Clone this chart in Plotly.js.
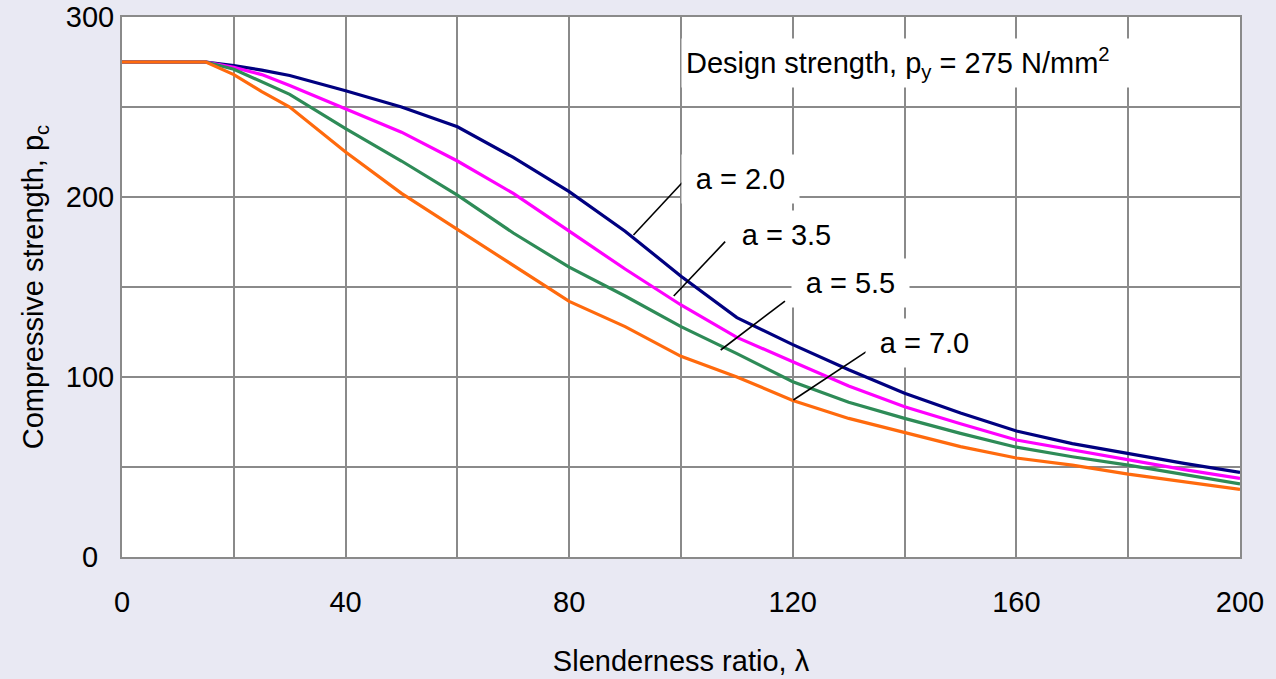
<!DOCTYPE html>
<html>
<head>
<meta charset="utf-8">
<script src="https://cdn.plot.ly/plotly-3.0.1.min.js"></script>
<style>
  html, body { margin: 0; padding: 0; background: #e9e9f3; }
  #chart { width: 1276px; height: 679px; }
</style>
</head>
<body>
<div id="chart"></div>
<script>
// Slenderness ratio λ
const lambda = [0, 15, 20, 25, 30, 40, 50, 60, 70, 80, 90, 100, 110, 120, 130, 140, 150, 160, 170, 180, 190, 200];
// Compressive strength pc (N/mm²) for each Robertson constant a
const pcA20 = [275, 275, 273, 270.5, 267.5, 259, 250, 239, 222, 203, 181, 156, 133, 118, 104, 91, 80, 70, 63, 57.5, 52, 47];
const pcA35 = [275, 275, 272, 268, 262, 249, 236, 220, 202, 181, 160, 140, 122, 108.5, 95, 83.5, 74, 65, 59.4, 54, 48.5, 43.7];
const pcA55 = [275, 275, 271, 264, 257, 238, 220, 201, 180, 161, 145, 128, 113, 97.4, 86, 77, 68.7, 61, 55.7, 51, 45.6, 40.6];
const pcA70 = [275, 275, 268, 258.5, 250, 225, 202, 182, 162, 142, 128, 111.5, 100, 87, 77, 69, 61.3, 55, 51, 46, 42, 37.6];

const seriesNames = ["a = 2.0", "a = 3.5", "a = 5.5", "a = 7.0"];
const seriesValues = [pcA20, pcA35, pcA55, pcA70];

// Label callouts: where the leader touches each curve
const calloutLambda = [91.5, 98.7, 107.1, 120.1];
const calloutPc = [178.9, 145, 115, 87.2];

const xTickVals = [0, 40, 80, 120, 160, 200];
const xTickText = ["0", "40", "80", "120", "160", "200"];
const yTickVals = [0, 100, 200, 300];
const yTickText = ["0\u2007", "100", "200", "300"];

const noteText = "Design strength, p<sub>y</sub> = 275 N/mm<sup>2</sup>";

// ---- styling / placement (not data) ----
const colors = ["#000080", "#ff00ff", "#2e8b57", "#ff6a0d"];
const labelBoxPos = [[110.6, 210], [118.8, 179], [130.3, 152], [143.5, 119]];
const leaderTail = [[100.2, 207.9], [107.9, 175.2], [118.6, 142.2], [133.3, 114.4]];

const FONT = "'Liberation Sans', Arial, sans-serif";
const FS = 29;
const GRID = "#8a8a8a";

const traces = seriesValues.map((vals, i) => ({
  x: lambda,
  y: vals,
  type: "scatter",
  mode: "lines",
  name: seriesNames[i],
  line: { color: colors[i], width: 3.2 },
  hoverinfo: "skip"
}));

const shapes = seriesNames.map((name, i) => ({
  type: "line", xref: "x", yref: "y",
  x0: leaderTail[i][0], y0: leaderTail[i][1],
  x1: calloutLambda[i], y1: calloutPc[i],
  line: { color: "#000", width: 1.6 }, layer: "above"
}));

const annotations = seriesNames.map((name, i) => ({
  x: labelBoxPos[i][0], y: labelBoxPos[i][1], xref: "x", yref: "y",
  text: name, showarrow: false, bgcolor: "#ffffff", borderpad: 8,
  width: 101, font: { family: FONT, size: FS, color: "#000" }
}));
annotations.push({
  x: 140.3, y: 274.2, xref: "x", yref: "y",
  text: noteText, showarrow: false, bgcolor: "#ffffff", borderpad: 4,
  width: 440, align: "left", font: { family: FONT, size: FS, color: "#000" }
});

const layout = {
  width: 1276, height: 679,
  paper_bgcolor: "#e9e9f3",
  plot_bgcolor: "#ffffff",
  margin: { l: 122, r: 36, t: 17, b: 122 },
  showlegend: false,
  font: { family: FONT, size: FS, color: "#000" },
  xaxis: {
    range: [0, 200], tickmode: "array", tickvals: xTickVals, ticktext: xTickText,
    showgrid: true, gridcolor: GRID, gridwidth: 2,
    minor: { dtick: 20, tick0: 0, showgrid: true, gridcolor: GRID, gridwidth: 2 },
    zeroline: false, showline: true, mirror: true, linecolor: GRID, linewidth: 2,
    ticks: "", ticklabelstandoff: 18,
    tickfont: { family: FONT, size: FS, color: "#000" },
    title: { text: "Slenderness ratio, λ", standoff: 34, font: { family: FONT, size: FS, color: "#000" } },
    fixedrange: true
  },
  yaxis: {
    range: [0, 300], tickmode: "array", tickvals: yTickVals, ticktext: yTickText,
    showgrid: true, gridcolor: GRID, gridwidth: 2,
    minor: { dtick: 50, tick0: 0, showgrid: true, gridcolor: GRID, gridwidth: 2 },
    zeroline: false, showline: true, mirror: true, linecolor: GRID, linewidth: 2,
    ticks: "", ticklabelstandoff: 0,
    tickfont: { family: FONT, size: FS, color: "#000" },
    title: { text: "Compressive strength, p<sub>c</sub>", standoff: 14, font: { family: FONT, size: FS, color: "#000" } },
    fixedrange: true
  },
  shapes: shapes,
  annotations: annotations
};

Plotly.newPlot("chart", traces, layout, { displayModeBar: false, staticPlot: true });
</script>
</body>
</html>
